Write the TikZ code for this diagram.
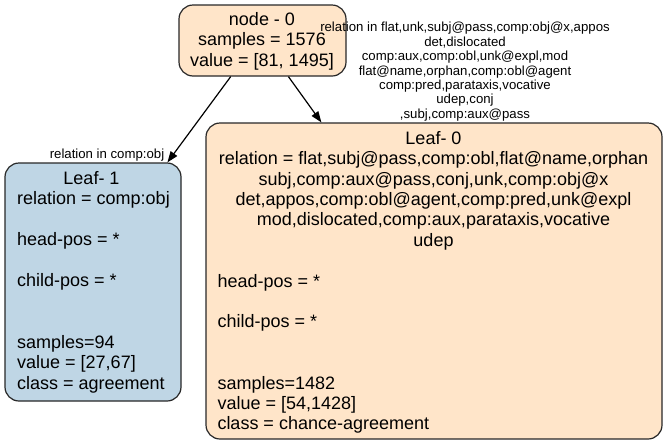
\documentclass[tikz,border=0pt]{standalone}
\usepackage{fontspec}
\setmainfont{Liberation Sans}
\usetikzlibrary{arrows.meta,calc}
\definecolor{bisq}{RGB}{255,229,201}
\definecolor{lblue}{RGB}{191,214,229}
\definecolor{edgec}{RGB}{40,40,40}
\begin{document}
\begin{tikzpicture}[x=1pt,y=-1pt,
  box/.style={draw=edgec, line width=1.2pt, rounded corners=14pt, inner sep=0pt},
  big/.style={font=\fontsize{18pt}{20.5pt}\selectfont, inner sep=0pt, text=black},
  small/.style={font=\fontsize{13.2pt}{14.4pt}\selectfont, inner sep=0pt, text=black},
  arr/.style={line width=1.2pt, draw=black, -{Triangle[length=11pt,width=8pt]}}]
\useasboundingbox[fill=white] (0,0) rectangle (666,445);

% boxes
\node[box, fill=bisq, minimum width=167pt, minimum height=71pt] (root) at (262.5,40.5) {};
\node[box, fill=lblue, minimum width=176pt, minimum height=238pt] (leafA) at (93,282) {};
\node[box, fill=bisq, minimum width=456pt, minimum height=316pt] (leafB) at (434,281) {};

% root text
\node[big, anchor=base] (r0) at (262,25) {node - 0};
\node[big, anchor=base] (r1) at (262,45.5) {samples = 1576};
\node[big, anchor=base] (r2) at (262,66) {value = [81, 1495]};

% Leaf-1 text
\node[big, anchor=base] (a0) at (91.5,184.3) {Leaf- 1};
\node[big, anchor=base west] (a1) at (17,204.8) {relation = comp:obj};
\node[big, anchor=base west] (a3) at (17,245.8) {head-pos = *};
\node[big, anchor=base west] (a5) at (17,286.8) {child-pos = *};
\node[big, anchor=base west] (a8) at (17,348.3) {samples=94};
\node[big, anchor=base west] (a9) at (17,368.8) {value = [27,67]};
\node[big, anchor=base west] (a10) at (17,389.3) {class = agreement};

% Leaf-0 text
\node[big, anchor=base] (b0) at (433.5,144.3) {Leaf- 0};
\node[big, anchor=base] (b1) at (433.5,164.7) {relation = flat,subj@pass,comp:obl,flat@name,orphan};
\node[big, anchor=base] (b2) at (433.5,185.1) {subj,comp:aux@pass,conj,unk,comp:obj@x};
\node[big, anchor=base] (b3) at (433.5,205.5) {det,appos,comp:obl@agent,comp:pred,unk@expl};
\node[big, anchor=base] (b4) at (433.5,225.9) {mod,dislocated,comp:aux,parataxis,vocative};
\node[big, anchor=base] (b5) at (433.5,246.3) {udep};
\node[big, anchor=base west] (b7) at (217.3,287.1) {head-pos = *};
\node[big, anchor=base west] (b9) at (217.3,327.9) {child-pos = *};
\node[big, anchor=base west] (b12) at (217.3,389.1) {samples=1482};
\node[big, anchor=base west] (b13) at (217.3,409.5) {value = [54,1428]};
\node[big, anchor=base west] (b14) at (217.3,429.9) {class = chance-agreement};

% edges
\draw[arr] ($(root.south west)!0.311!(root.south east)$) -- ($(leafA.north west)!0.92!(leafA.north east)$);
\draw[arr] ($(root.south west)!0.654!(root.south east)$) -- ($(leafB.north west)!0.2537!(leafB.north east)$);

% edge labels
\node[small, anchor=base] (e0) at (107,158.3) {relation in comp:obj};
\node[small, anchor=base] (f1) at (465,31.7) {relation in flat,unk,subj@pass,comp:obj@x,appos};
\node[small, anchor=base] (f2) at (465,46.1) {det,dislocated};
\node[small, anchor=base] (f3) at (465,60.6) {comp:aux,comp:obl,unk@expl,mod};
\node[small, anchor=base] (f4) at (465,75.0) {flat@name,orphan,comp:obl@agent};
\node[small, anchor=base] (f5) at (465,89.4) {comp:pred,parataxis,vocative};
\node[small, anchor=base] (f6) at (465,103.9) {udep,conj};
\node[small, anchor=base] (f7) at (465,118.3) {,subj,comp:aux@pass};
\end{tikzpicture}
\end{document}
